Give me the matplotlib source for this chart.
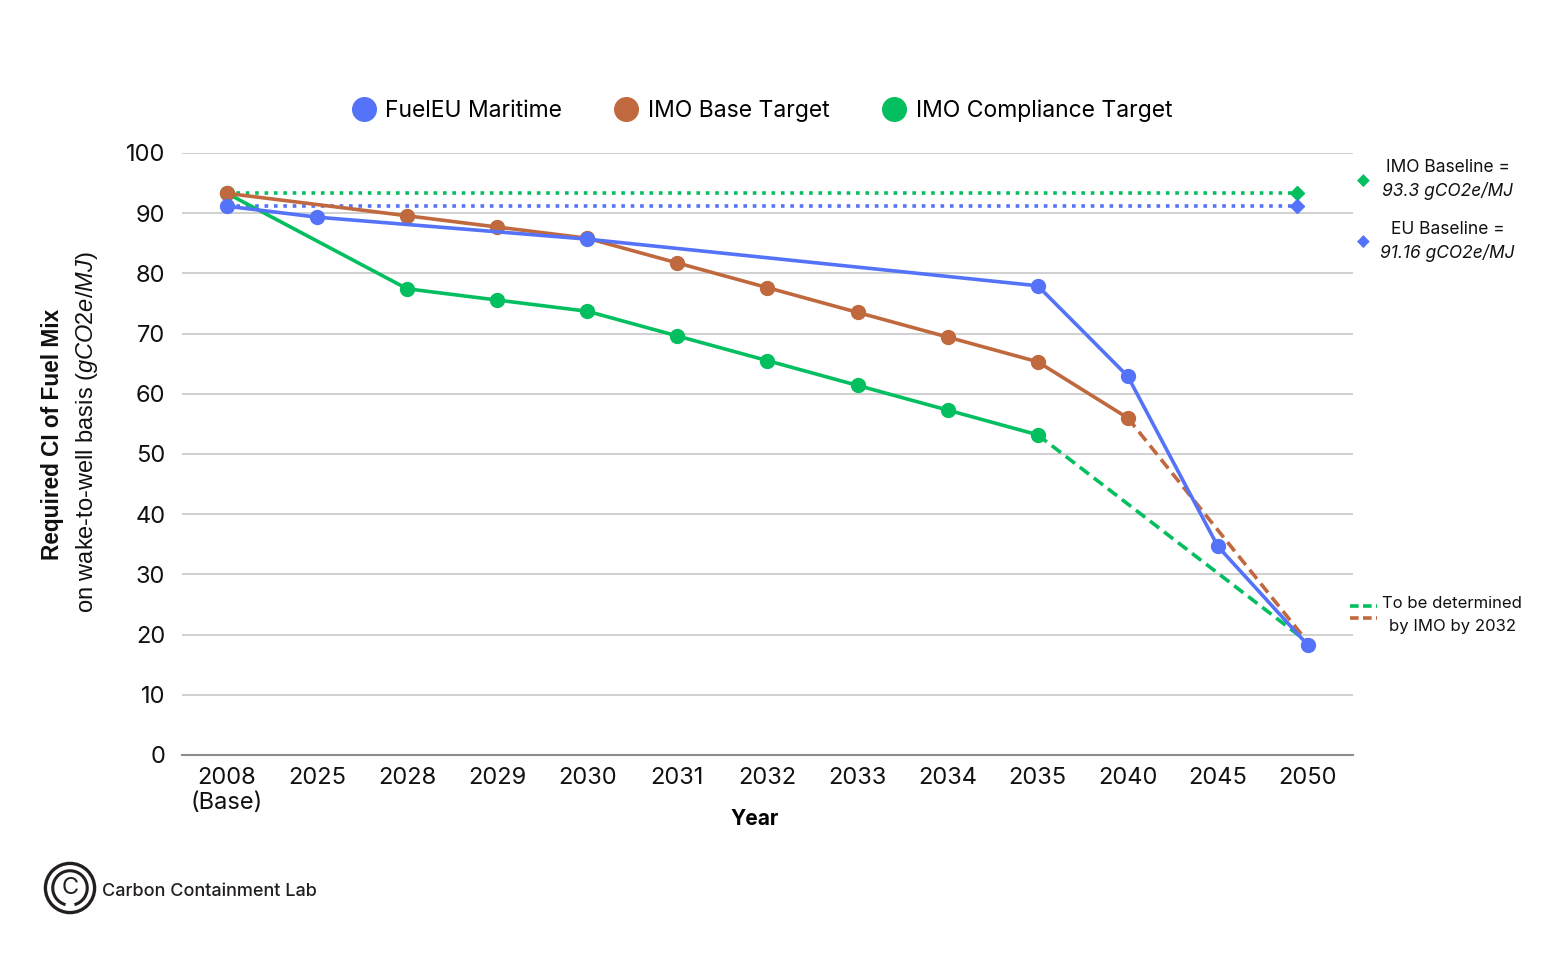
import numpy as np
import matplotlib.pyplot as plt
from matplotlib.lines import Line2D
from matplotlib.patches import Circle, Arc

# Dados
years = ["2008\n(Base)", "2025", "2028", "2029", "2030", "2031", "2032",
         "2033", "2034", "2035", "2040", "2045", "2050"]

fueleu_idx = [0, 1, 4, 9, 10, 11, 12]
fueleu = [91.16, 89.34, 85.69, 77.94, 62.90, 34.64, 18.23]

imo_base_idx = [0, 2, 3, 4, 5, 6, 7, 8, 9, 10]
imo_base = [93.3, 89.57, 87.70, 85.84, 81.73, 77.63, 73.52, 69.42, 65.31, 55.98]

imo_comp_idx = [0, 2, 3, 4, 5, 6, 7, 8, 9]
imo_comp = [93.3, 77.44, 75.57, 73.71, 69.60, 65.50, 61.39, 57.29, 53.18]

tbd_end = 18.7          # fim das linhas tracejadas (2050)
imo_baseline = 93.3
eu_baseline = 91.16

blue = "#5473F8"
orange = "#C0693E"
green = "#03BF5F"
grey_text = "#111111"

font = ["Inter", "DejaVu Sans"]
plt.rcParams["mathtext.fontset"] = "custom"
plt.rcParams["mathtext.it"] = "Liberation Sans:italic"
plt.rcParams["mathtext.rm"] = "Liberation Sans"

dash = (0, (3.2, 1.7))

fig = plt.figure(figsize=(15.5, 9.72), dpi=100)
ax = fig.add_axes([0.1174, 0.2233, 0.7555, 0.6193])

x = np.arange(len(years))

# linhas de base pontilhadas
ax.plot([0, 11.88], [imo_baseline, imo_baseline], color=green, lw=2.6,
        linestyle=(0, (1, 1.6)), zorder=2)
ax.plot([0, 11.88], [eu_baseline, eu_baseline], color=blue, lw=2.6,
        linestyle=(0, (1, 1.6)), zorder=2)
ax.plot([11.88], [imo_baseline], marker="D", color=green, ms=7, zorder=3)
ax.plot([11.88], [eu_baseline], marker="D", color=blue, ms=7, zorder=3)

# tracejadas (a definir)
ax.plot([imo_base_idx[-1], 12], [imo_base[-1], tbd_end], color=orange, lw=2.6,
        linestyle=dash, zorder=3)
ax.plot([imo_comp_idx[-1], 12], [imo_comp[-1], tbd_end], color=green, lw=2.6,
        linestyle=dash, zorder=3)

# series principais
ax.plot(x[imo_comp_idx], imo_comp, color=green, lw=2.6, marker="o", ms=10, zorder=4)
ax.plot(x[imo_base_idx], imo_base, color=orange, lw=2.6, marker="o", ms=10, zorder=5)
ax.plot(x[fueleu_idx], fueleu, color=blue, lw=2.6, marker="o", ms=10, zorder=6)

ax.set_xlim(-0.5, 12.5)
ax.set_ylim(0, 100)
ax.set_yticks(range(0, 101, 10))
ax.set_xticks(x)
ax.set_xticklabels(years, fontsize=17, family=font, linespacing=1.15)
ax.tick_params(axis="y", labelsize=17, length=0, pad=12, colors=grey_text)
ax.tick_params(axis="x", length=0, pad=9, colors=grey_text)
for lab in ax.get_yticklabels():
    lab.set_family(font)

ax.grid(axis="y", color="#c8c8c8", lw=1.2)
ax.set_axisbelow(True)
for s in ["top", "right", "left"]:
    ax.spines[s].set_visible(False)
ax.spines["bottom"].set_color("#8c8c8c")
ax.spines["bottom"].set_linewidth(1.5)

ax.set_xlabel("Year", fontsize=15, fontweight="bold", family=font)
ax.xaxis.set_label_coords((755 - 182) / 1171, -0.09)

# rotulo do eixo y em duas linhas
fig.text(0.034, 0.553, "Required CI of Fuel Mix", rotation=90, ha="center", va="center",
         fontsize=16.3, fontweight="bold", family="Liberation Sans", color=grey_text)
fig.text(0.056, 0.555, "on wake-to-well basis $\\it{(gCO2e/MJ)}$",
         rotation=90, ha="center", va="center", fontsize=17,
         family="Liberation Sans", color=grey_text)

# legenda superior
handles = [Line2D([], [], ls="", marker="o", ms=17, color=c) for c in (blue, orange, green)]
fig.legend(handles, ["FuelEU Maritime", "IMO Base Target", "IMO Compliance Target"],
           loc="center", bbox_to_anchor=(0.491, 0.886), ncol=3, frameon=False,
           prop={"family": font, "size": 16.5}, handletextpad=0.35, columnspacing=2.2,
           handlelength=1.2)

# anotacoes a direita
fig.text(0.8795, 1 - 181 / 972, "\u25C6", color=green, fontsize=12, ha="center", va="center",
         family="DejaVu Sans")
fig.text(0.934, 1 - 168 / 972, "IMO Baseline =", fontsize=12.5, ha="center", va="center",
         family=font, color=grey_text)
fig.text(0.934, 1 - 191 / 972, "93.3 gCO2e/MJ", fontsize=12.5, ha="center", va="center",
         family=font, style="italic", color=grey_text)
fig.text(0.8795, 1 - 242 / 972, "\u25C6", color=blue, fontsize=12, ha="center", va="center",
         family="DejaVu Sans")
fig.text(0.934, 1 - 230 / 972, "EU Baseline =", fontsize=12.5, ha="center", va="center",
         family=font, color=grey_text)
fig.text(0.934, 1 - 253 / 972, "91.16 gCO2e/MJ", fontsize=12.5, ha="center", va="center",
         family=font, style="italic", color=grey_text)

fig.add_artist(Line2D([1350 / 1550, 1377 / 1550], [1 - 606 / 972] * 2, color=green, lw=2.6,
                      linestyle=(0, (2.4, 1.2))))
fig.add_artist(Line2D([1350 / 1550, 1377 / 1550], [1 - 618 / 972] * 2, color=orange, lw=2.6,
                      linestyle=(0, (2.4, 1.2))))
fig.text(0.937, 1 - 603 / 972, "To be determined", fontsize=12, ha="center", va="center",
         family=font, color=grey_text)
fig.text(0.937, 1 - 627 / 972, "by IMO by 2032", fontsize=12, ha="center", va="center",
         family=font, color=grey_text)

# logo
logo = fig.add_axes([40 / 1550, 1 - 918 / 972, 60 / 1550, 60 / 972])
logo.set_xlim(-1, 1)
logo.set_ylim(-1, 1)
logo.set_aspect("equal")
logo.axis("off")
logo.add_patch(Circle((0, 0), 0.82, fill=False, lw=2.4, color="#231f20"))
logo.add_patch(Arc((0, 0), 1.15, 1.15, theta1=-75, theta2=255, lw=2.2, color="#231f20"))
logo.text(0, 0, "C", fontsize=17, ha="center", va="center", color="#231f20", family=font)
fig.text(102 / 1550, 1 - 891 / 972, "Carbon Containment Lab", fontsize=13, ha="left",
         va="center", family=font, fontweight="medium", color="#231f20")

fig.savefig("out.png", dpi=100)
